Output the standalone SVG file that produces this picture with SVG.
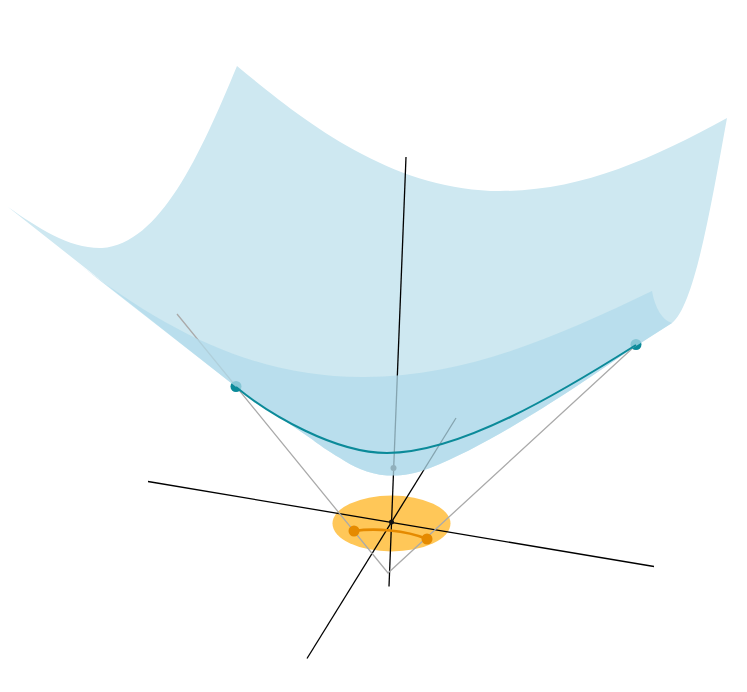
<svg xmlns="http://www.w3.org/2000/svg" width="747" height="692" viewBox="0 0 747 692">
<style>
.ax{stroke:#000;stroke-width:1.300;fill:none}
.gr{stroke:#aaa;stroke-width:1.300;fill:none}
.dot{fill:#0b8a99}
.odot{fill:#e58a00}
</style>
<rect width="747" height="692" fill="#fff"/>
<g id="back-surface"><path fill="#cee8f1" d="M8,207C38,228 70,249 102,248C160,244 200,155 237,66C300,118 390,191 500,191C580,191 650,160 727,118C712,200 695,305 672,323L650,337L630,350C585,381 495,443 430,468C412,475 400,476 387,475.500C368,474 352,466 340,458C328,451 318,444 313,440L240,390Z"/></g>
<g id="disc"><ellipse cx="391.500" cy="523.500" rx="59" ry="28" fill="#ffc758"/></g>
<g id="connectors">
<path class="ax" d="M148,481.500L654,566.500"/>
<path class="ax" d="M456,418L307,658.500"/>
<path class="ax" d="M406,157L389,586.500"/>
<path class="gr" d="M177,314L388,573L636,345"/>
<path d="M354,531C375,528 405,530 427,539" fill="none" stroke="#e58a00" stroke-width="2.600"/>
</g>
<g id="points">
<circle class="odot" cx="354" cy="531" r="5.500"/>
<circle class="odot" cx="427" cy="539" r="5.500"/>
<circle cx="391.500" cy="522" r="2.500" fill="#111"/>
<circle cx="393.500" cy="468" r="3" fill="#333"/>
<circle class="dot" cx="236" cy="386.500" r="5.500"/>
<circle class="dot" cx="636" cy="344.500" r="5.500"/>
</g>
<g id="front-surface"><path fill="#b2dbeb" fill-opacity=".75" d="M75,261C170,335 260,378 365,377C470,376 560,335 652,291C655,308 662,320 672,323L650,337L630,350C585,381 495,443 430,468C412,475 400,476 387,475.500C368,474 352,466 340,458C328,451 318,444 313,440L240,390Z"/></g>
<g id="curve"><path d="M236,387C270,415 335,453 387,453C460,453 560,393 636,345" fill="none" stroke="#0b8a99" stroke-width="2"/></g>
</svg>
